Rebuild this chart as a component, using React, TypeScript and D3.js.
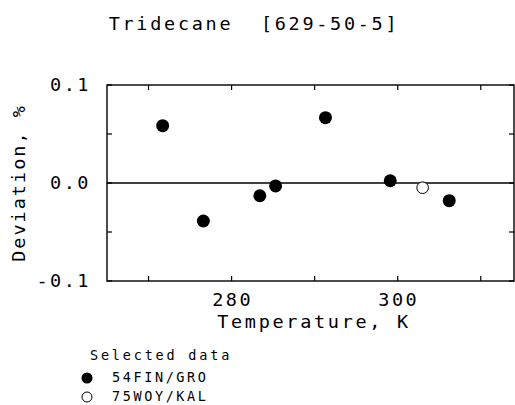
import React from 'react';
import * as d3 from 'd3';

// 54FIN/GRO (filled)
const finTemps = [271.7, 276.6, 283.4, 285.3, 291.3, 299.1, 306.2];
const finDevs = [0.0585, -0.0388, -0.013, -0.003, 0.0667, 0.0023, -0.018];
// 75WOY/KAL (open)
const woyTemps = [303.0];
const woyDevs = [-0.0048];

const xTicks = [270, 280, 290, 300, 310];
const xLabels = [280, 300];
const yTicks = [-0.1, -0.05, 0, 0.05, 0.1];
const yLabels = ['-0.1', '0.0', '0.1'];
const yLabelValues = [-0.1, 0, 0.1];

const W = 515;
const H = 405;
const font = "'DejaVu Sans Mono', monospace";

const App = () => {
  const left = 107, right = 514, top = 85, bottom = 281;
  const x = d3.scaleLinear().domain([265, 314]).range([left, right]);
  const y = d3.scaleLinear().domain([-0.1, 0.1]).range([bottom, top]);
  const tl = 5;

  return (
    <svg width={W} height={H} style={{ position: 'absolute', left: 0, top: 0, background: '#fff' }}>
      <text x={254} y={30} textAnchor="middle" fontFamily={font} fontSize={18.5} letterSpacing={2.7} style={{ whiteSpace: 'pre' }}>
        {'Tridecane  [629-50-5]'}
      </text>

      {/* frame */}
      <rect x={left} y={top} width={right - left} height={bottom - top} fill="none" stroke="#000" strokeWidth={1.4} />
      <line x1={left} x2={right} y1={y(0)} y2={y(0)} stroke="#000" strokeWidth={1.3} />

      {xTicks.map(t => (
        <g key={'x' + t}>
          <line x1={x(t)} x2={x(t)} y1={top} y2={top + tl} stroke="#000" strokeWidth={1.2} />
          <line x1={x(t)} x2={x(t)} y1={bottom} y2={bottom - tl} stroke="#000" strokeWidth={1.2} />
        </g>
      ))}
      {yTicks.map(t => (
        <g key={'y' + t}>
          <line x1={left} x2={left + tl} y1={y(t)} y2={y(t)} stroke="#000" strokeWidth={1.2} />
          <line x1={right} x2={right - tl} y1={y(t)} y2={y(t)} stroke="#000" strokeWidth={1.2} />
        </g>
      ))}

      {xLabels.map(t => (
        <text key={'xl' + t} x={x(t) + 1} y={306} textAnchor="middle" fontFamily={font} fontSize={18.5} letterSpacing={2.5}>
          {t}
        </text>
      ))}
      {yLabelValues.map((v, i) => (
        <text key={'yl' + v} x={91} y={y(v) + 6} textAnchor="end" fontFamily={font} fontSize={18.5} letterSpacing={2.5}>
          {yLabels[i]}
        </text>
      ))}

      <text x={314} y={328} textAnchor="middle" fontFamily={font} fontSize={18.5} letterSpacing={2.7}>
        Temperature, K
      </text>
      <text transform={`translate(25,${y(0)}) rotate(-90)`} textAnchor="middle" fontFamily={font} fontSize={18.5} letterSpacing={2}>
        Deviation, %
      </text>

      {finTemps.map((t, i) => (
        <circle key={'f' + i} cx={x(t)} cy={y(finDevs[i])} r={6.5} fill="#000" />
      ))}
      {woyTemps.map((t, i) => (
        <circle key={'w' + i} cx={x(t)} cy={y(woyDevs[i])} r={5.8} fill="#fff" stroke="#000" strokeWidth={1} />
      ))}

      {/* legend */}
      <text x={90} y={360} fontFamily={font} fontSize={13.5} letterSpacing={2.8}>Selected data</text>
      <circle cx={87} cy={378} r={5.5} fill="#000" />
      <text x={112} y={382} fontFamily={font} fontSize={13.5} letterSpacing={2.6}>54FIN/GRO</text>
      <circle cx={87} cy={397} r={5} fill="#fff" stroke="#000" strokeWidth={1} />
      <text x={112} y={401} fontFamily={font} fontSize={13.5} letterSpacing={2.6}>75WOY/KAL</text>
    </svg>
  );
};

export default App;
